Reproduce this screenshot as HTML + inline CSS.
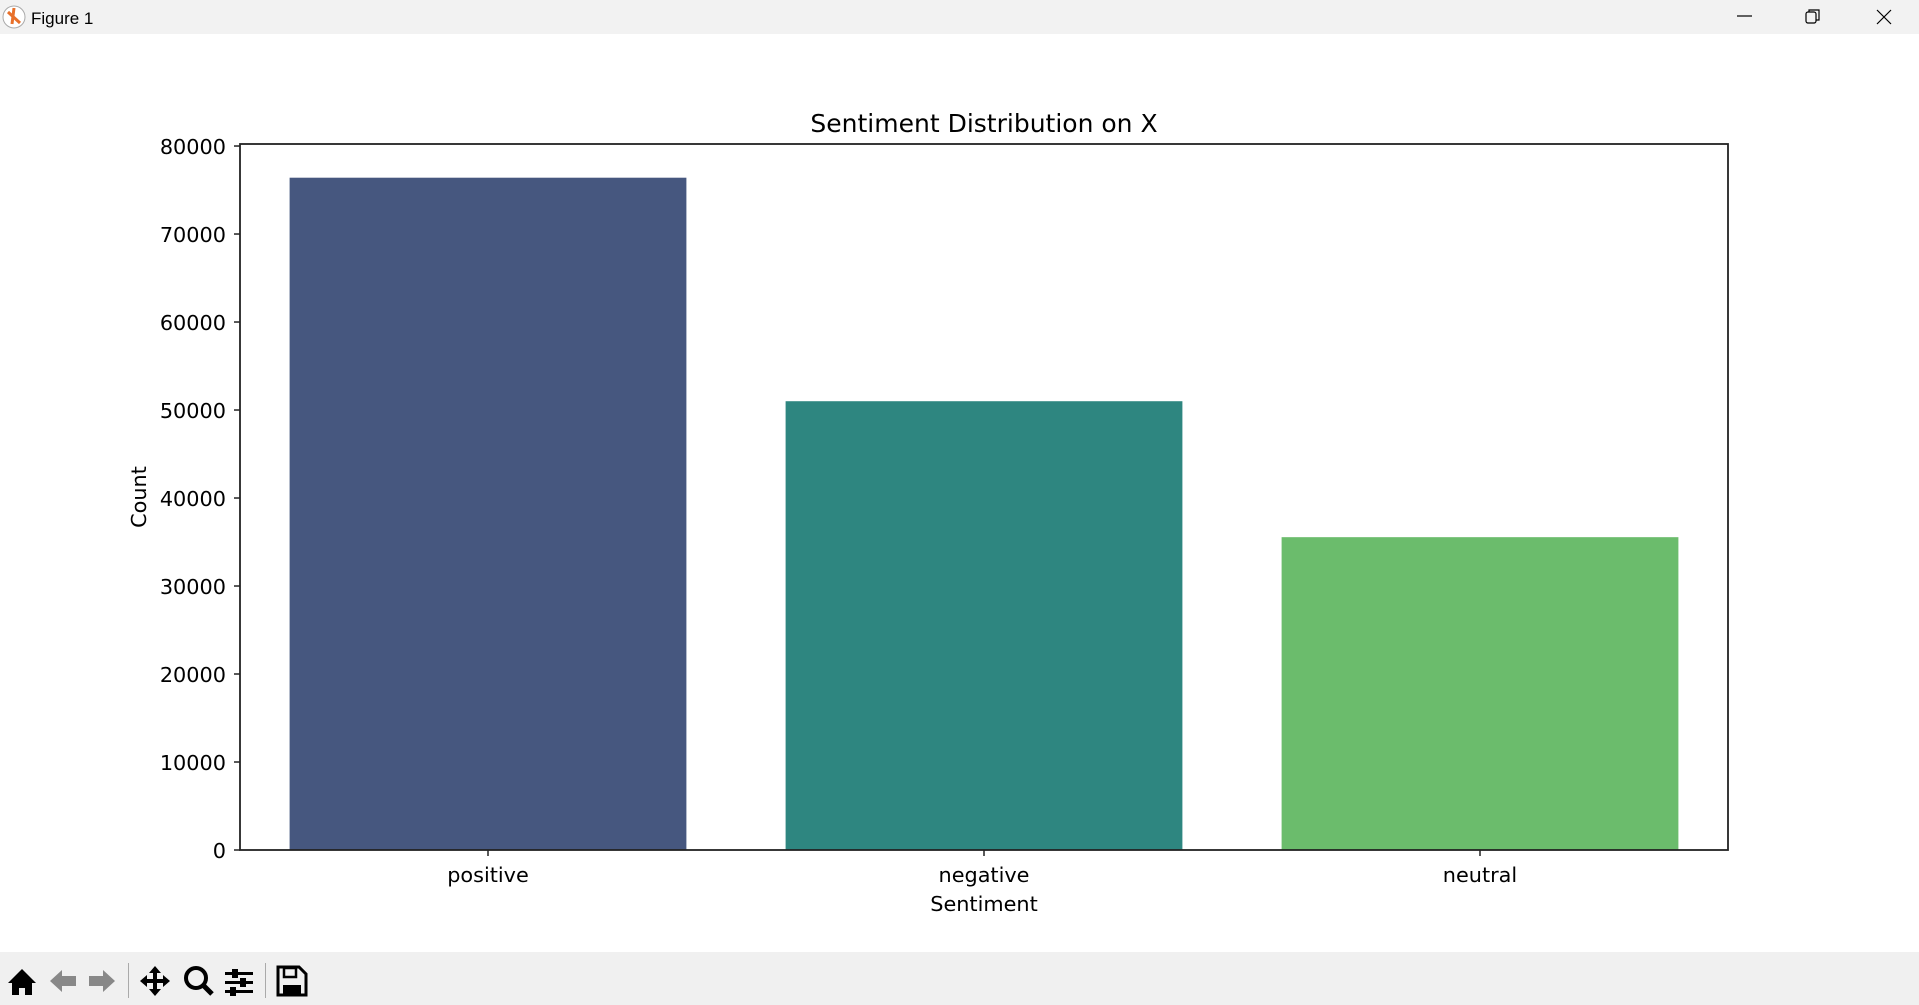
<!DOCTYPE html>
<html><head><meta charset="utf-8"><style>
html,body{margin:0;padding:0;width:1919px;height:1005px;overflow:hidden;background:#fff;font-family:"DejaVu Sans","Liberation Sans",sans-serif}
</style></head><body>
<svg width="1919" height="1005" xmlns="http://www.w3.org/2000/svg" font-family="DejaVu Sans, Liberation Sans, sans-serif">
<rect x="0" y="0" width="1919" height="34" fill="#f2f2f2"/>
<g><circle cx="14" cy="17" r="11" fill="#fff" stroke="#aaa"/><path d="M8 12 L20 23 M14 8 L12 24" stroke="#e8702a" stroke-width="3"/></g>
<text x="31" y="24" font-size="17" font-family="Liberation Sans, sans-serif" fill="#000">Figure 1</text>
<line x1="1737" y1="16" x2="1752" y2="16" stroke="#000" stroke-width="1.2"/>
<g><rect x="1806" y="12" width="10" height="11" rx="2" fill="none" stroke="#000" stroke-width="1.2"/><path d="M1809 12 V10 H1819 V20 H1816" fill="none" stroke="#000" stroke-width="1.2"/></g>
<path d="M1877 10 L1891 24 M1891 10 L1877 24" stroke="#000" stroke-width="1.2"/>
<g id="chart"></g>
<rect x="0" y="952" width="1919" height="53" fill="#f0f0f0"/>
<g fill="#000">
<path d="M8 983 L22 969 L36 983 L32 983 L32 995 L25 995 L25 988 L19 988 L19 995 L12 995 L12 983Z"/>
<path d="M50 981 L62 970 L62 976 L76 976 L76 986 L62 986 L62 992Z" fill="#888"/>
<path d="M115 981 L103 970 L103 976 L89 976 L89 986 L103 986 L103 992Z" fill="#888"/>
<rect x="128" y="963" width="1" height="35" fill="#aaa"/>
<path d="M155 966 L161 973 L157 973 L157 979 L163 979 L163 975 L170 981 L163 987 L163 983 L157 983 L157 989 L161 989 L155 996 L149 989 L153 989 L153 983 L147 983 L147 987 L140 981 L147 975 L147 979 L153 979 L153 973 L149 973Z"/>
<g><circle cx="196" cy="978" r="10" fill="none" stroke="#000" stroke-width="4"/><path d="M203 985 L212 994" stroke="#000" stroke-width="5"/></g>
<g><rect x="225" y="972" width="28" height="3"/><rect x="225" y="981" width="28" height="3"/><rect x="225" y="990" width="28" height="3"/><rect x="232" y="969" width="6" height="9"/><rect x="240" y="978" width="6" height="9"/><rect x="230" y="987" width="6" height="9"/></g>
<rect x="265" y="963" width="1" height="35" fill="#aaa"/>
<g><path d="M278 967 H299 L306 974 V995 H278Z" fill="none" stroke="#000" stroke-width="3"/><rect x="284" y="968" width="12" height="9" fill="none" stroke="#000" stroke-width="2.5"/><rect x="283" y="985" width="18" height="9"/></g>
</g>
</svg>
<script>
const categories = ["positive","negative","neutral"];
const counts = [76400, 51000, 35550];
const colors = ["#46577f","#2e8680","#6bbc6c"];
const yTicks = [0,10000,20000,30000,40000,50000,60000,70000,80000];
const NS="http://www.w3.org/2000/svg";
const L=240,R=1728,T=144,B=850;
const yMax=80230;
const y=v=>B-(v/yMax)*(B-T);
const step=(R-L)/categories.length;
const xc=i=>L+step*(i+0.5);
const g=document.getElementById('chart');
function mk(tag,attrs,txt){const e=document.createElementNS(NS,tag);for(const k in attrs)e.setAttribute(k,attrs[k]);if(txt!==undefined)e.textContent=txt;g.appendChild(e);return e;}
categories.forEach((c,i)=>{
  const bw=step*0.8;
  const r=mk('rect',{x:xc(i)-bw/2,y:y(counts[i]),width:bw,height:B-y(counts[i]),fill:colors[i]});
  
  
  const t=mk('line',{x1:xc(i),x2:xc(i),y1:B,y2:B+6,stroke:'#222','stroke-width':1.5});
  
  
  const l=mk('text',{x:xc(i),y:B+32,'font-size':20.8,'text-anchor':'middle',fill:'#000'},c);
  
  
});
yTicks.forEach(v=>{
  const t=mk('line',{x1:L-6,x2:L,y1:y(v),y2:y(v),stroke:'#222','stroke-width':1.5});
  
  
  const l=mk('text',{x:L-14,y:y(v)+8,'font-size':20.8,'text-anchor':'end',fill:'#000'},String(v));
  
  
});
const ax=mk('rect',{x:L,y:T,width:R-L,height:B-T,fill:'none',stroke:'#222','stroke-width':1.8});


const ti=mk('text',{x:(L+R)/2,y:132,'font-size':25,'text-anchor':'middle',fill:'#000'},'Sentiment Distribution on X');


const xl=mk('text',{x:(L+R)/2,y:911,'font-size':20.8,'text-anchor':'middle',fill:'#000'},'Sentiment');


const yl=mk('text',{x:0,y:0,'font-size':20.8,'text-anchor':'middle',fill:'#000',transform:'translate(146,'+((T+B)/2)+') rotate(-90)'},'Count');


</script>
</body></html>
